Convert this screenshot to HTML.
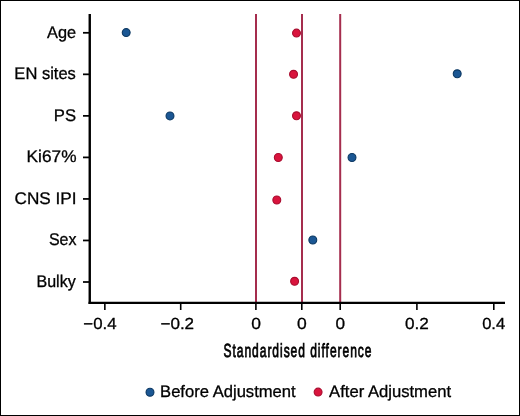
<!DOCTYPE html>
<html><head><meta charset="utf-8">
<style>
html,body{margin:0;padding:0;background:#fff;}
svg{display:block;will-change:transform;text-rendering:geometricPrecision;}
text{font-family:"Liberation Sans",sans-serif;fill:#000;stroke:#000;stroke-width:0.3;}
</style></head>
<body>
<svg width="520" height="416" viewBox="0 0 520 416">
<rect x="0" y="0" width="520" height="416" fill="#fff"/>
<rect x="0.5" y="0.5" width="519" height="415" fill="none" stroke="#000" stroke-width="1"/>
<g stroke="#a52d4e" stroke-width="2">
<line x1="256" y1="14" x2="256" y2="302"/>
<line x1="302" y1="14" x2="302" y2="302"/>
<line x1="340.2" y1="14" x2="340.2" y2="302"/>
</g>
<g stroke="#000" stroke-width="2" fill="none">
<line x1="89.75" y1="13.9" x2="89.75" y2="304" stroke-width="2.4"/>
<line x1="88.55" y1="302.9" x2="505" y2="302.9" stroke-width="2.25"/>
</g>
<g stroke="#000" stroke-width="1.75">
<line x1="83" y1="32.8" x2="89" y2="32.8"/>
<line x1="83" y1="74.33" x2="89" y2="74.33"/>
<line x1="83" y1="115.86" x2="89" y2="115.86"/>
<line x1="83" y1="157.4" x2="89" y2="157.4"/>
<line x1="83" y1="198.93" x2="89" y2="198.93"/>
<line x1="83" y1="240.46" x2="89" y2="240.46"/>
<line x1="83" y1="282.0" x2="89" y2="282.0"/>
</g>
<g stroke="#000" stroke-width="1.6">
<line x1="104.85" y1="304" x2="104.85" y2="310"/>
<line x1="180.7" y1="304" x2="180.7" y2="310"/>
<line x1="255.9" y1="304" x2="255.9" y2="310"/>
<line x1="301.8" y1="304" x2="301.8" y2="310"/>
<line x1="340.2" y1="304" x2="340.2" y2="310"/>
<line x1="416.9" y1="304" x2="416.9" y2="310"/>
<line x1="493.8" y1="304" x2="493.8" y2="310"/>
</g>
<text x="47.09" y="37.6" font-size="16.9" textLength="29.08" lengthAdjust="spacingAndGlyphs">Age</text>
<text x="14.37" y="79.35" font-size="16.9" textLength="61.50" lengthAdjust="spacingAndGlyphs">EN sites</text>
<text x="53.84" y="120.55" font-size="16.9" textLength="22.23" lengthAdjust="spacingAndGlyphs">PS</text>
<text x="26.64" y="162.4" font-size="16.9" textLength="49.84" lengthAdjust="spacingAndGlyphs">Ki67%</text>
<text x="14.60" y="203.75" font-size="16.9" textLength="61.96" lengthAdjust="spacingAndGlyphs">CNS IPI</text>
<text x="48.95" y="245.45" font-size="16.9" textLength="27.59" lengthAdjust="spacingAndGlyphs">Sex</text>
<text x="36.44" y="286.7" font-size="16.9" textLength="39.27" lengthAdjust="spacingAndGlyphs">Bulky</text>
<text x="83.34" y="329.3" font-size="16.0" textLength="33.17" lengthAdjust="spacingAndGlyphs">&#8722;0.4</text>
<text x="160.48" y="329.3" font-size="16.0" textLength="33.62" lengthAdjust="spacingAndGlyphs">&#8722;0.2</text>
<text x="251.18" y="329.3" font-size="16.0" textLength="9.70" lengthAdjust="spacingAndGlyphs">0</text>
<text x="296.93" y="329.3" font-size="16.0" textLength="9.73" lengthAdjust="spacingAndGlyphs">0</text>
<text x="335.43" y="329.3" font-size="16.0" textLength="9.57" lengthAdjust="spacingAndGlyphs">0</text>
<text x="405.08" y="329.3" font-size="16.0" textLength="23.81" lengthAdjust="spacingAndGlyphs">0.2</text>
<text x="482.17" y="329.3" font-size="16.0" textLength="22.98" lengthAdjust="spacingAndGlyphs">0.4</text>
<text x="223.53" y="356.9" font-size="19.0" textLength="148.91" lengthAdjust="spacingAndGlyphs" style="stroke-width:0.8;letter-spacing:1.5px">Standardised difference</text>
<g fill="#1b5794" stroke="#0c3862" stroke-width="1.1">
<circle cx="126.2" cy="32.6" r="3.95"/>
<circle cx="457.2" cy="73.8" r="3.95"/>
<circle cx="170" cy="115.9" r="3.95"/>
<circle cx="352" cy="157.5" r="3.95"/>
<circle cx="312.8" cy="240" r="3.95"/>
</g>
<g fill="#d9143d" stroke="#a80c2e" stroke-width="1.1">
<circle cx="296.5" cy="33.1" r="3.95"/>
<circle cx="293.55" cy="74.3" r="3.95"/>
<circle cx="296.5" cy="115.8" r="3.95"/>
<circle cx="278.3" cy="157.5" r="3.95"/>
<circle cx="276.8" cy="200" r="3.95"/>
<circle cx="294.6" cy="281.3" r="3.95"/>
</g>
<circle cx="150" cy="392.2" r="3.95" fill="#1b5794" stroke="#0c3862" stroke-width="1.1"/>
<circle cx="318.1" cy="392.1" r="3.95" fill="#d9143d" stroke="#a80c2e" stroke-width="1.1"/>
<text x="160.08" y="396.9" font-size="16.6" textLength="135.57" lengthAdjust="spacingAndGlyphs">Before Adjustment</text>
<text x="329.09" y="396.9" font-size="16.6" textLength="121.99" lengthAdjust="spacingAndGlyphs">After Adjustment</text>
</svg>
</body></html>
